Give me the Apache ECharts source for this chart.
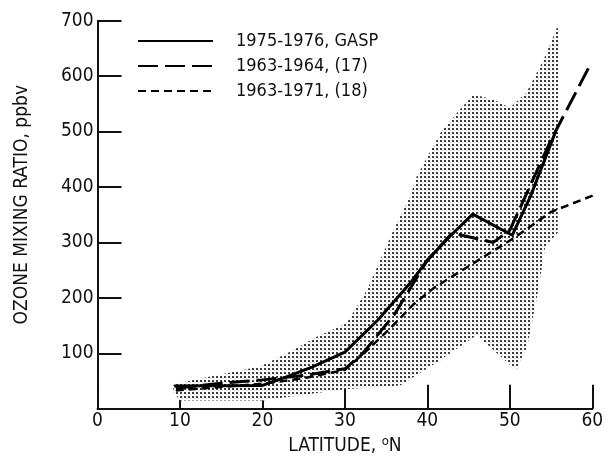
<!DOCTYPE html>
<html>
<head>
<meta charset="utf-8">
<script src="https://cdn.jsdelivr.net/npm/echarts@6/dist/echarts.min.js"></script>
<style>
html,body{margin:0;padding:0;background:#fff;}
#chart{width:608px;height:462px;}
</style>
</head>
<body>
<div id="chart"></div>
<script>
// ---- data ----
var xTicks = [0, 10, 20, 30, 40, 50, 60];
var yTicks = [100, 200, 300, 400, 500, 600, 700];
var seriesNames = ['1975-1976, GASP', '1963-1964, (17)', '1963-1971, (18)'];

// 1975-1976, GASP  [latitude, ppbv]
var gasp = [[9.3, 41], [20, 42], [23, 58], [26, 75], [30, 102], [34, 160], [38, 228], [40, 268], [42.8, 312], [45.5, 351], [50.3, 313], [52.5, 383], [55.5, 498]];
// 1963-1964, (17)
var ref17 = [[9.5, 37], [15, 46], [20, 52], [25, 60], [30, 72], [32, 97], [36, 170], [40, 268], [43, 317], [48, 300], [50, 322], [55, 485], [59.8, 622]];
// 1963-1971, (18)
var ref18 = [[9.5, 33], [20, 45], [25, 55], [30, 70], [32.3, 100], [35.5, 145], [38.3, 188], [40.8, 218], [50.5, 308], [55, 355], [61.5, 393]];

// shaded range envelope
var bandUpper = [[9.2, 43], [11.6, 52], [19.7, 76], [23, 100], [26.6, 130], [30.2, 154], [32.7, 215], [35.9, 323], [37.9, 383], [38.7, 419], [41.6, 498], [43.6, 534], [45.6, 567], [48, 558], [50, 543], [52, 570], [54.1, 630], [55.9, 694]];
var bandLower = [[55.8, 317], [54.3, 293], [53.3, 202], [52.1, 112], [50.7, 70], [46, 133], [41.6, 88], [36.7, 42], [30, 35], [25, 25], [20, 15], [10, 15], [9.2, 30]];

// ---- pattern for stipple ----
var pat = document.createElement('canvas');
pat.width = 4; pat.height = 4;
var pc = pat.getContext('2d');
pc.fillStyle = '#ffffff'; pc.fillRect(0, 0, 4, 4);
pc.fillStyle = '#3a3a3a';
pc.fillRect(0, 0, 2, 2);
pc.fillStyle = '#d0d0d0';
pc.fillRect(2, 2, 1, 1);

var font = "'Liberation Sans Narrow', 'DejaVu Sans Condensed', sans-serif";
var chart = echarts.init(document.getElementById('chart'));

var option = {
  backgroundColor: '#fff',
  animation: false,
  grid: {left: 97.5, right: 15.7, top: 20.7, bottom: 53.3, containLabel: false},
  legend: {
    orient: 'vertical',
    left: 137,
    top: 32,
    padding: 0,
    itemWidth: 75,
    itemHeight: 14,
    itemGap: 7,
    data: seriesNames,
    itemStyle: {opacity: 0},
    textStyle: {fontFamily: font, fontSize: 18, lineHeight: 18, color: '#111', padding: [0, 0, 0, 18]}
  },
  xAxis: {
    type: 'value', min: 0, max: 60, interval: 10,
    name: 'LATITUDE, {sup|o}N',
    nameLocation: 'middle', nameGap: 17,
    nameTextStyle: {fontFamily: font, fontSize: 19, color: '#111',
      rich: {sup: {fontFamily: font, fontSize: 13, verticalAlign: 'bottom', padding: [0, 0, 8, 0], color: '#111'}}},
    axisLine: {lineStyle: {color: '#111', width: 2}},
    axisTick: {inside: true, length: 24, lineStyle: {color: '#111', width: 2}},
    axisLabel: {fontFamily: font, fontSize: 19, color: '#111', margin: 3},
    splitLine: {show: false}
  },
  yAxis: {
    type: 'value', min: 0, max: 700, interval: 100,
    name: 'OZONE MIXING RATIO, ppbv',
    nameLocation: 'middle', nameGap: 66, nameRotate: 90,
    nameTextStyle: {fontFamily: font, fontSize: 19, color: '#111', padding: [0, 0, 0, 20]},
    axisLine: {show: true, lineStyle: {color: '#111', width: 2}},
    axisTick: {inside: true, length: 24, lineStyle: {color: '#111', width: 2}},
    axisLabel: {fontFamily: font, fontSize: 19, color: '#111', margin: 4,
      formatter: function (v) { return yTicks.indexOf(v) >= 0 ? String(v) : ''; }},
    splitLine: {show: false}
  },
  series: [
    {
      type: 'custom',
      silent: true,
      z: 1,
      data: [0],
      renderItem: function (params, api) {
        var pts = bandUpper.concat(bandLower).map(function (p) { return api.coord(p); });
        return {type: 'polygon', shape: {points: pts}, style: {fill: {image: pat, repeat: 'repeat'}}};
      }
    },
    {
      name: seriesNames[0], type: 'line', data: gasp, symbol: 'none', z: 3,
      lineStyle: {color: '#000', width: 3, type: 'solid'},
      itemStyle: {color: '#000'}
    },
    {
      name: seriesNames[1], type: 'line', data: ref17, symbol: 'none', z: 3,
      lineStyle: {color: '#000', width: 3, type: [20, 7]},
      itemStyle: {color: '#000'}
    },
    {
      name: seriesNames[2], type: 'line', data: ref18, symbol: 'none', z: 3, clip: false,
      lineStyle: {color: '#000', width: 2.5, type: [8, 5]},
      itemStyle: {color: '#000'}
    }
  ]
};
chart.setOption(option);
</script>
</body>
</html>
